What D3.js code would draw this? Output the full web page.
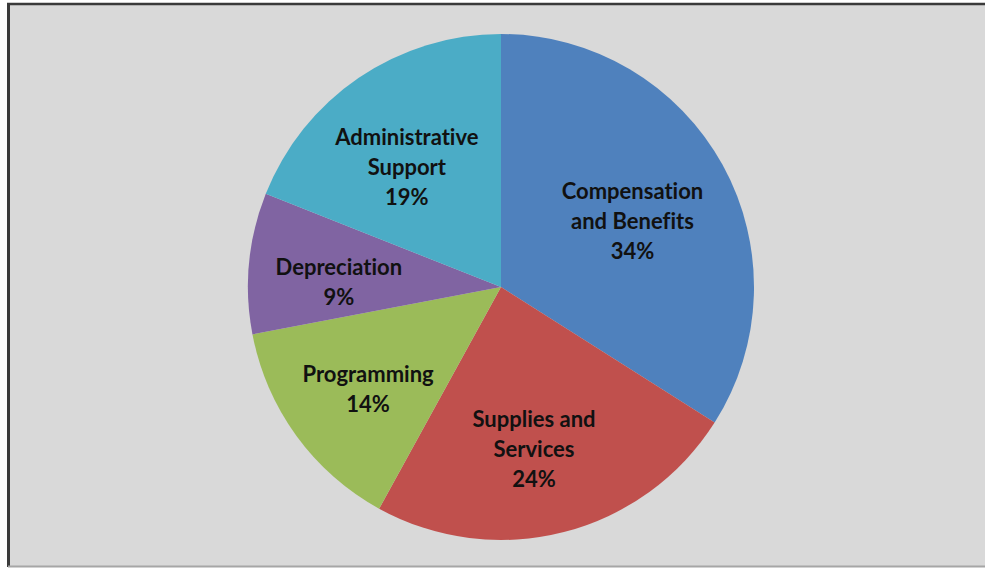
<!DOCTYPE html>
<html>
<head>
<meta charset="utf-8">
<script src="https://cdn.jsdelivr.net/npm/d3@7"></script>
<style>
  html, body { margin: 0; padding: 0; background: #ffffff; overflow: hidden; }
  svg { display: block; }
</style>
</head>
<body>
<div id="root"></div>
<script>
// slice data, clockwise from 12 o'clock
var categories = ["Compensation and Benefits", "Supplies and Services", "Programming", "Depreciation", "Administrative Support"];
var values = [34, 24, 14, 9, 19];
var labelLines = [
    ["Compensation", "and Benefits", "34%"],
    ["Supplies and", "Services", "24%"],
    ["Programming", "14%"],
    ["Depreciation", "9%"],
    ["Administrative", "Support", "19%"]
];
var colors = ["#4f81bd", "#c0504d", "#9bbb59", "#8064a2", "#4bacc6"];

var width = 985,
    height = 569;

var cx = 501,
    cy = 287,
    radius = 253;

var svg = d3
    .select("#root")
    .append("svg")
    .attr("width", width)
    .attr("height", height);

// frame: grey panel, dark left/top edge, lighter bottom edge
svg.append("rect")
    .attr("x", 0)
    .attr("y", 0)
    .attr("width", width)
    .attr("height", height)
    .style("fill", "#ffffff");
svg.append("rect")
    .attr("x", 8)
    .attr("y", 3)
    .attr("width", width - 8)
    .attr("height", 563)
    .style("fill", "#d9d9d9");
svg.append("line")
    .attr("x1", 8.5)
    .attr("x2", 8.5)
    .attr("y1", 3)
    .attr("y2", 567)
    .style("stroke", "#3a3a3a")
    .style("stroke-width", 3);
svg.append("line")
    .attr("x1", 7)
    .attr("x2", width)
    .attr("y1", 4)
    .attr("y2", 4)
    .style("stroke", "#3a3a3a")
    .style("stroke-width", 2.5);
svg.append("line")
    .attr("x1", 8)
    .attr("x2", width)
    .attr("y1", 566.5)
    .attr("y2", 566.5)
    .style("stroke", "#a6a6a6")
    .style("stroke-width", 2);

var data = categories.map((c, i) => {
    return { name: c, value: values[i], lines: labelLines[i], color: colors[i] };
});

var pie = d3.pie().sort(null).value((d) => d.value);
var arcs = pie(data);

var arc = d3.arc().innerRadius(0).outerRadius(radius);
var labelArc = d3.arc().innerRadius(radius * 0.62).outerRadius(radius * 0.62);

var g = svg.append("g").attr("transform", "translate(" + cx + "," + cy + ")");

g.selectAll("path")
    .data(arcs)
    .enter()
    .append("path")
    .attr("d", arc)
    .style("fill", (d) => d.data.color)
    .style("stroke", "none");

var lineH = 30;

var labels = g.selectAll("text")
    .data(arcs)
    .enter()
    .append("text")
    .attr("transform", (d) => {
        var c = labelArc.centroid(d);
        return "translate(" + (c[0] - 6) + "," + (c[1] + 10) + ")";
    })
    .attr("text-anchor", "middle")
    .style("font-family", "Lato, 'Open Sans', sans-serif")
    .style("font-weight", "bold")
    .style("font-size", "22px")
    .style("font-variant-ligatures", "none")
    .style("fill", "#111111");

labels.each(function (d) {
    var n = d.data.lines.length;
    var t = d3.select(this);
    d.data.lines.forEach((line, i) => {
        t.append("tspan")
            .attr("x", 0)
            .attr("y", (i - (n - 1) / 2) * lineH)
            .attr("dy", "0.35em")
            .text(line);
    });
});
</script>
</body>
</html>
